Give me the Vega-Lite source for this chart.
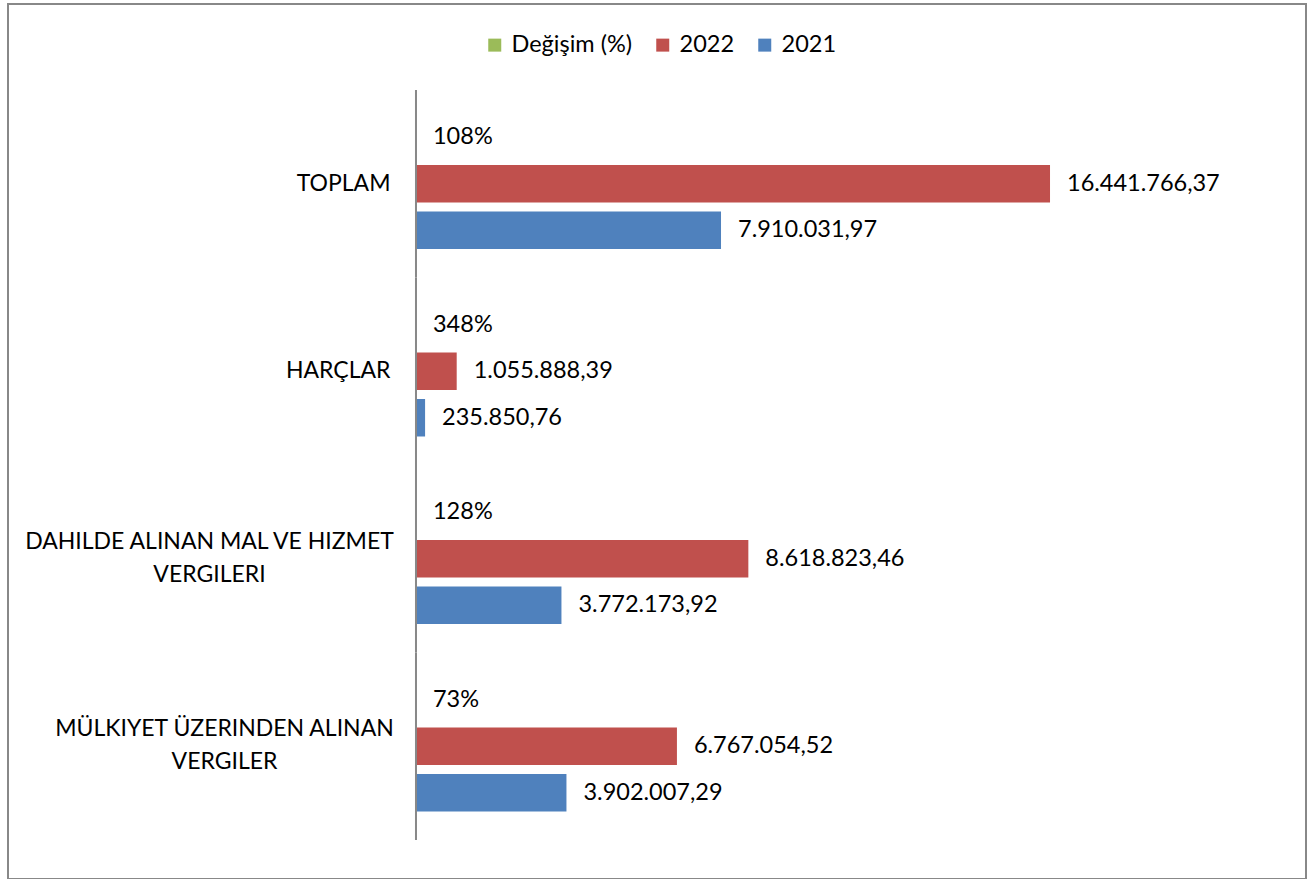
{
  "$schema": "https://vega.github.io/schema/vega-lite/v6.json",
  "width": 1298,
  "height": 875,
  "autosize": "none",
  "padding": {"left": 8, "top": 4, "right": 1, "bottom": 0},
  "config": {
    "view": {"stroke": "#888888", "strokeWidth": 2},
    "locale": {"number": {"decimal": ",", "thousands": ".", "grouping": [3], "currency": ["", ""]}},
    "font": "Lato",
    "text": {"font": "Lato"}
  },
  "data": {"values": [
    {"kategori": "TOPLAM", "seri": "Değişim (%)", "deger": 1.0786},
    {"kategori": "TOPLAM", "seri": "2022", "deger": 16441766.37},
    {"kategori": "TOPLAM", "seri": "2021", "deger": 7910031.97},
    {"kategori": "HARÇLAR", "seri": "Değişim (%)", "deger": 3.4770},
    {"kategori": "HARÇLAR", "seri": "2022", "deger": 1055888.39},
    {"kategori": "HARÇLAR", "seri": "2021", "deger": 235850.76},
    {"kategori": "DAHILDE ALINAN MAL VE HIZMET VERGILERI", "seri": "Değişim (%)", "deger": 1.2848},
    {"kategori": "DAHILDE ALINAN MAL VE HIZMET VERGILERI", "seri": "2022", "deger": 8618823.46},
    {"kategori": "DAHILDE ALINAN MAL VE HIZMET VERGILERI", "seri": "2021", "deger": 3772173.92},
    {"kategori": "MÜLKIYET ÜZERINDEN ALINAN VERGILER", "seri": "Değişim (%)", "deger": 0.7343},
    {"kategori": "MÜLKIYET ÜZERINDEN ALINAN VERGILER", "seri": "2022", "deger": 6767054.52},
    {"kategori": "MÜLKIYET ÜZERINDEN ALINAN VERGILER", "seri": "2021", "deger": 3902007.29}
  ]},
  "encoding": {
    "y": {
      "field": "kategori",
      "type": "nominal",
      "sort": ["TOPLAM", "HARÇLAR", "DAHILDE ALINAN MAL VE HIZMET VERGILERI", "MÜLKIYET ÜZERINDEN ALINAN VERGILER"],
      "scale": {"paddingInner": 0, "paddingOuter": 0.3333, "align": 0.688},
      "axis": {
        "title": null,
        "offset": -408,
        "domain": false,
        "ticks": false,
        "labelFontSize": 23,
        "labelColor": "#000000",
        "labelLimit": 600,
        "labelLineHeight": 33,
        "labelBaseline": "middle",
        "labelExpr": "datum.value == 'DAHILDE ALINAN MAL VE HIZMET VERGILERI' ? ['DAHILDE ALINAN MAL VE HIZMET', 'VERGILERI'] : datum.value == 'MÜLKIYET ÜZERINDEN ALINAN VERGILER' ? ['MÜLKIYET ÜZERINDEN ALINAN', 'VERGILER'] : datum.value",
        "labelAlign": {"condition": {"test": "indexof(datum.value, 'VERGI') >= 0", "value": "center"}, "value": "right"},
        "labelOffset": {"condition": {"test": "indexof(datum.value, 'VERGI') >= 0", "value": -17}, "value": 0},
        "labelPadding": {"condition": [{"test": "indexof(datum.value, 'DAHILDE') >= 0", "value": 207}, {"test": "indexof(datum.value, 'ÜZERINDEN') >= 0", "value": 192}], "value": 26}
      }
    },
    "x": {
      "field": "deger",
      "type": "quantitative",
      "scale": {"domain": [-10580000, 23080000], "nice": false, "zero": false},
      "axis": null
    }
  },
  "layer": [
    {
      "mark": {"type": "bar"},
      "encoding": {
        "yOffset": {"field": "seri", "type": "nominal", "sort": ["Değişim (%)", "2022", "2021"], "scale": {"paddingInner": 0.194, "paddingOuter": 0.613}},
        "color": {
          "field": "seri",
          "type": "nominal",
          "scale": {"domain": ["Değişim (%)", "2022", "2021"], "range": ["#9BBB59", "#C0504D", "#4F81BD"]},
          "legend": {
            "orient": "none",
            "legendX": 475,
            "legendY": 29,
            "direction": "horizontal",
            "title": null,
            "symbolType": "square",
            "symbolSize": 169,
            "symbolStrokeWidth": 0,
            "labelFontSize": 23.5,
            "labelColor": "#000000",
            "labelOffset": 5,
            "columnPadding": 18,
            "padding": 0
          }
        }
      }
    },
    {
      "transform": [{"filter": "datum.seri == 'Değişim (%)'"}],
      "mark": {"type": "text", "align": "left", "baseline": "middle", "dx": 17, "fontSize": 23.5, "color": "#000000"},
      "encoding": {
        "yOffset": {"field": "seri", "type": "nominal", "sort": ["Değişim (%)", "2022", "2021"]},
        "text": {"field": "deger", "type": "quantitative", "format": ".0%"}
      }
    },
    {
      "transform": [{"filter": "datum.seri != 'Değişim (%)'"}],
      "mark": {"type": "text", "align": "left", "baseline": "middle", "dx": 17, "fontSize": 23.5, "color": "#000000"},
      "encoding": {
        "yOffset": {"field": "seri", "type": "nominal", "sort": ["Değişim (%)", "2022", "2021"]},
        "text": {"field": "deger", "type": "quantitative", "format": ",.2f"}
      }
    },
    {
      "transform": [{"filter": "datum.seri == '2022'"}],
      "mark": {"type": "bar", "fillOpacity": 0, "stroke": "#888888", "strokeWidth": 2},
      "encoding": {
        "x": {"datum": 0},
        "x2": {"datum": 0}
      }
    }
  ]
}
